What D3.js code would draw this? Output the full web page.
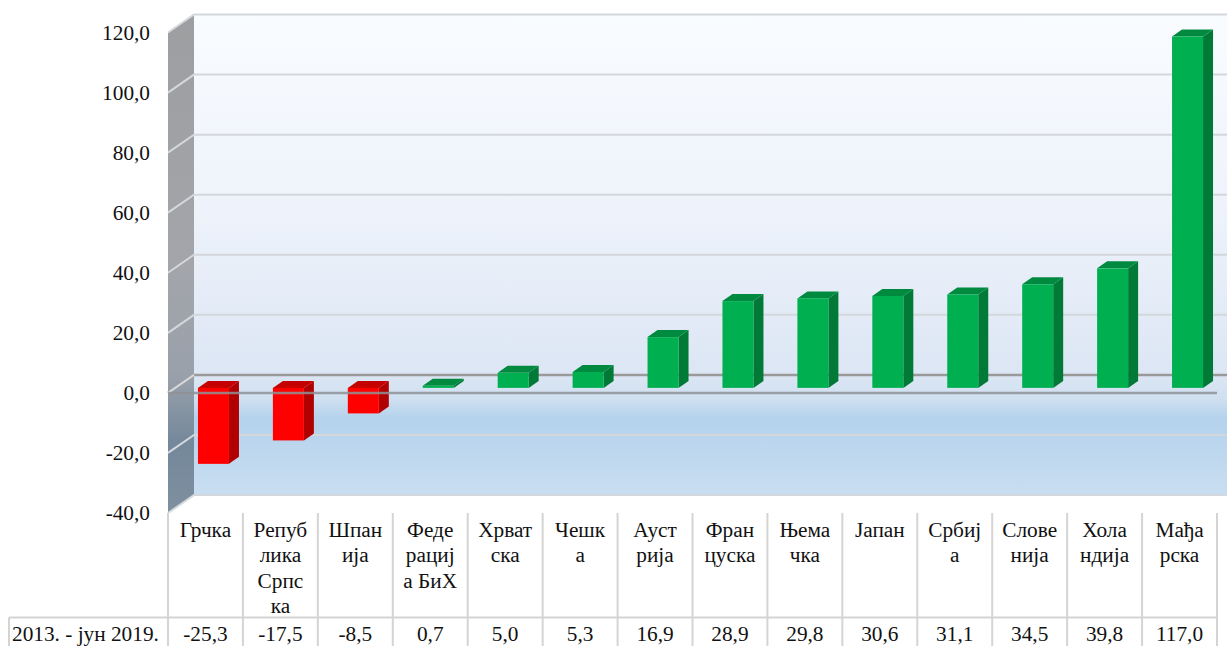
<!DOCTYPE html>
<html>
<head>
<meta charset="utf-8">
<script src="https://cdnjs.cloudflare.com/ajax/libs/d3/7.8.5/d3.min.js"></script>
<style>
body { margin: 0; background: #fff; overflow: hidden; }
text { font-family: "Liberation Serif", serif; fill: #111; }
</style>
</head>
<body>
<div id="chart"></div>
<script>
const categories = ["Грчка", "Република Српска", "Шпанија", "Федерација БиХ", "Хрватска", "Чешка", "Аустрија", "Француска", "Њемачка", "Јапан", "Србија", "Словенија", "Холандија", "Мађарска"];
// how the table breaks each name
const categoryLines = [["Грчка"], ["Репуб", "лика", "Српс", "ка"], ["Шпан", "ија"], ["Феде", "рациј", "а БиХ"], ["Хрват", "ска"], ["Чешк", "а"], ["Ауст", "рија"], ["Фран", "цуска"], ["Њема", "чка"], ["Јапан"], ["Србиј", "а"], ["Слове", "нија"], ["Хола", "ндија"], ["Мађа", "рска"]];
const values = [-25.3, -17.5, -8.5, 0.7, 5.0, 5.3, 16.9, 28.9, 29.8, 30.6, 31.1, 34.5, 39.8, 117.0];
const seriesName = "2013. - јун 2019.";
const yTicks = [-40, -20, 0, 20, 40, 60, 80, 100, 120];

const width = 1227;
const height = 646;

const svg = d3.select("#chart").append("svg")
	.attr("width", width)
	.attr("height", height);

const scaleX = d3.scaleBand().domain(d3.range(categories.length)).range([168, 1217]);
const scaleY = d3.scaleLinear().domain([-40, 120]).range([513, 32.5]);

// 3d offsets: back wall, bar front, bar depth
const wallDx = 26, wallDy = -18;
const barDx = 8, barDy = -5;
const depthDx = 10, depthDy = -7;
const barWidth = 31;

const fmt = v => d3.format(".1f")(v).replace(".", ",").replace("\u2212", "-");

const defs = svg.append("defs");

const backGrad = defs.append("linearGradient").attr("id", "back").attr("x1", 0).attr("y1", 0).attr("x2", 0).attr("y2", 1);
[[0, "#f9fcff"], [0.4, "#eef3fb"], [0.75, "#dce6f4"], [0.8, "#cfe0f0"], [0.84, "#b4d2ec"], [1, "#c9def1"]].forEach(s => {
	backGrad.append("stop").attr("offset", s[0]).attr("stop-color", s[1]);
});

const wallGrad = defs.append("linearGradient").attr("id", "wall").attr("x1", 0).attr("y1", 0).attr("x2", 0).attr("y2", 1);
[[0, "#9d9ea0"], [0.5, "#a3a5aa"], [0.72, "#9aa1ab"], [0.86, "#74889b"], [1, "#7f8f9f"]].forEach(s => {
	wallGrad.append("stop").attr("offset", s[0]).attr("stop-color", s[1]);
});

const x0 = scaleX.range()[0];
const x1 = width;
const back = y => y + wallDy;

// walls
svg.append("rect")
	.attr("x", x0 + wallDx)
	.attr("y", back(scaleY(120)))
	.attr("width", x1 - x0 - wallDx)
	.attr("height", scaleY(-40) - scaleY(120))
	.attr("fill", "url(#back)");

svg.append("path")
	.attr("d", d3.line()([[x0, scaleY(120)], [x0 + wallDx, back(scaleY(120))], [x0 + wallDx, back(scaleY(-40))], [x0, scaleY(-40)]]))
	.attr("fill", "url(#wall)");

// gridlines
yTicks.forEach(t => {
	const y = scaleY(t);
	svg.append("path")
		.attr("d", d3.line()([[x0, y], [x0 + wallDx, back(y)], [x1, back(y)]]))
		.attr("fill", "none")
		.attr("stroke", t === 0 ? "#9a9a9a" : "#d4d7db")
		.attr("stroke-width", t === 0 ? 2.5 : 2);
});
svg.append("path")
	.attr("d", d3.line()([[x0, scaleY(0)], [x0 + wallDx, back(scaleY(0))]]))
	.attr("fill", "none")
	.attr("stroke", "#d6d8db")
	.attr("stroke-width", 2);

// bars
const bars = svg.selectAll("g.bar")
	.data(values)
	.enter()
	.append("g")
	.attr("class", "bar");

const faceX = (d, i) => scaleX(i) + (scaleX.bandwidth() - barWidth) / 2 + barDx;
const topY = d => Math.min(scaleY(d), scaleY(0)) + barDy;
const botY = d => Math.max(scaleY(d), scaleY(0)) + barDy;

bars.append("path")
	.attr("d", (d, i) => {
		const x = faceX(d, i) + barWidth;
		return d3.line()([[x, topY(d)], [x + depthDx, topY(d) + depthDy], [x + depthDx, botY(d) + depthDy], [x, botY(d)]]) + "Z";
	})
	.attr("fill", d => d < 0 ? "#b00000" : "#007a36");

bars.append("path")
	.attr("d", (d, i) => {
		const x = faceX(d, i);
		return d3.line()([[x, topY(d)], [x + depthDx, topY(d) + depthDy], [x + barWidth + depthDx, topY(d) + depthDy], [x + barWidth, topY(d)]]) + "Z";
	})
	.attr("fill", d => d < 0 ? "#c40000" : "#008a40");

bars.append("rect")
	.attr("x", faceX)
	.attr("y", topY)
	.attr("width", barWidth)
	.attr("height", d => botY(d) - topY(d))
	.attr("fill", d => d < 0 ? "#ff0000" : "#00b050");

// front zero line, passes over the red bars
svg.append("line")
	.attr("x1", x0)
	.attr("x2", scaleX.range()[1])
	.attr("y1", scaleY(0))
	.attr("y2", scaleY(0))
	.attr("stroke", "#8f9297")
	.attr("stroke-width", 2.5)
	.attr("opacity", 0.85);

// y axis
const yAxis = d3.axisLeft(scaleY).tickValues(yTicks).tickFormat(fmt).tickSize(0).tickPadding(18);
const yG = svg.append("g")
	.attr("transform", "translate(" + x0 + ",0)")
	.call(yAxis);
yG.select(".domain").remove();
yG.selectAll("text")
	.attr("font-size", 21.3)
	.attr("dy", "0.32em");

// data table
const rowTop = scaleY(-40);
const rowMid = 617.5;
const rowBot = 650;
const tableLeft = 9;
const tableColor = "#d4d4d4";

d3.range(categories.length + 1).forEach(i => {
	const x = i < categories.length ? scaleX(i) : scaleX.range()[1];
	svg.append("line")
		.attr("x1", x).attr("x2", x)
		.attr("y1", rowTop).attr("y2", rowBot)
		.attr("stroke", tableColor)
		.attr("stroke-width", 2);
});
svg.append("line")
	.attr("x1", tableLeft).attr("x2", scaleX.range()[1] + 1)
	.attr("y1", rowMid).attr("y2", rowMid)
	.attr("stroke", tableColor)
	.attr("stroke-width", 2);
svg.append("line")
	.attr("x1", tableLeft).attr("x2", tableLeft)
	.attr("y1", rowMid).attr("y2", rowBot)
	.attr("stroke", tableColor)
	.attr("stroke-width", 2);

const cols = svg.selectAll("g.col")
	.data(categories)
	.enter()
	.append("g")
	.attr("class", "col");

cols.each(function (d, i) {
	const cx = scaleX(i) + scaleX.bandwidth() / 2;
	d3.select(this).selectAll("text")
		.data(categoryLines[i])
		.enter()
		.append("text")
		.attr("x", cx)
		.attr("y", (l, j) => 537 + j * 25.3)
		.attr("text-anchor", "middle")
		.attr("font-size", 21.3)
		.text(l => l);
	d3.select(this).append("text")
		.attr("x", cx)
		.attr("y", 641)
		.attr("text-anchor", "middle")
		.attr("font-size", 21.3)
		.text(fmt(values[i]));
});

svg.append("text")
	.attr("x", 12)
	.attr("y", 641)
	.attr("font-size", 21.3)
	.text(seriesName);
</script>
</body>
</html>
